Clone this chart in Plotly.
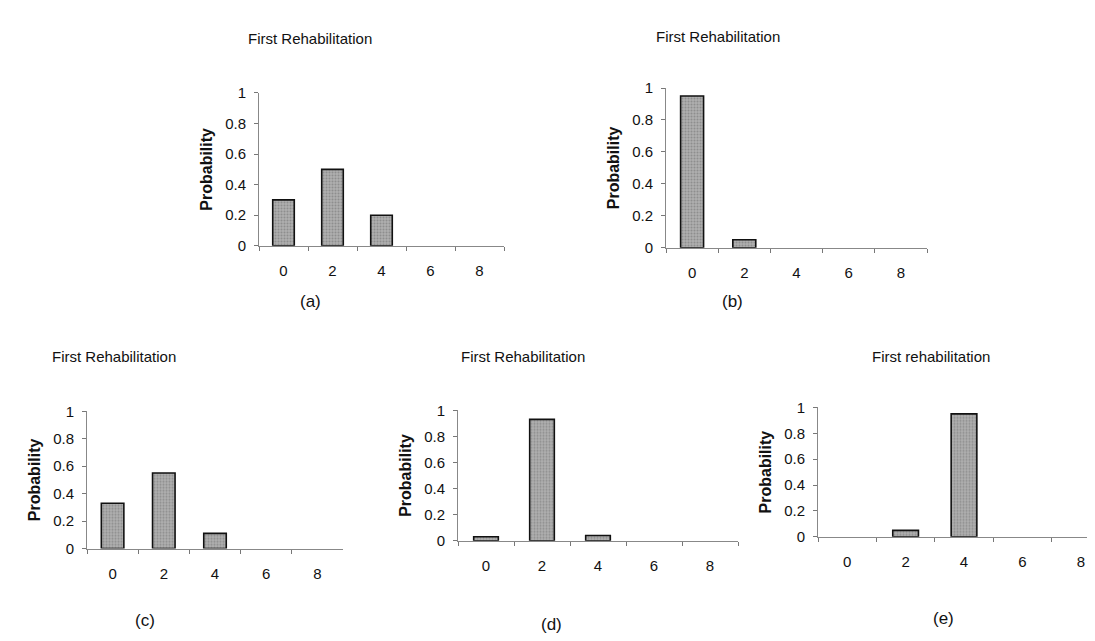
import plotly.graph_objects as go

categories = ["0", "2", "4", "6", "8"]
prob_a = [0.30, 0.50, 0.20, 0.0, 0.0]
prob_b = [0.95, 0.05, 0.0, 0.0, 0.0]
prob_c = [0.33, 0.55, 0.11, 0.0, 0.0]
prob_d = [0.03, 0.93, 0.04, 0.0, 0.0]
prob_e = [0.0, 0.05, 0.95, 0.0, 0.0]
titles = ["First Rehabilitation", "First Rehabilitation", "First Rehabilitation",
          "First Rehabilitation", "First rehabilitation"]
panel_labels = ["(a)", "(b)", "(c)", "(d)", "(e)"]
y_ticks = [0, 0.2, 0.4, 0.6, 0.8, 1]
y_ticklabels = ["0", "0.2", "0.4", "0.6", "0.8", "1"]

W, H = 1095, 641
FONT = "Liberation Sans, Arial, sans-serif"

# pixel layout: (x_left, x_right, y_zero, y_one, xrange_max)
layout_px = [
    (251, 496, 235, 78, 4.5),
    (658, 919, 237, 73, 4.5),
    (79, 335, 546, 405, 4.5),
    (450, 730, 538, 404, 4.5),
    (810, 1095, 534, 401, 4.38),
]
title_pos = [(302, 22), (710, 20), (106, 349), (515, 349), (923, 349)]
label_pos = [(302, 292), (724, 292), (137, 620), (543, 624), (935, 618)]

series = [prob_a, prob_b, prob_c, prob_d, prob_e]

fig = go.Figure()
annotations = []
for i, (vals, (xl, xr, y0, y1, xmax)) in enumerate(zip(series, layout_px)):
    n = "" if i == 0 else str(i + 1)
    fig.add_trace(go.Bar(
        x=categories, y=vals, width=0.44,
        marker=dict(color="#a8a8a8",
                    line=dict(color="#111111",
                              width=[1.6 if v > 0 else 0 for v in vals]),
                    pattern=dict(shape=".", fgcolor="#6a6a6a", bgcolor="#b0b0b0",
                                 size=3, solidity=0.4)),
        xaxis="x" + n, yaxis="y" + n, showlegend=False, hoverinfo="skip",
    ))
    xa = dict(domain=[xl / W, xr / W], anchor="y" + n, type="category",
              range=[-0.5, xmax], tickson="boundaries", ticks="outside",
              ticklen=4, tickcolor="#777", showline=True, linecolor="#888",
              linewidth=1, showgrid=False, zeroline=False,
              ticklabelstandoff=11,
              tickfont=dict(family=FONT, size=15, color="#111"))
    ya = dict(domain=[1 - y0 / H, 1 - y1 / H], anchor="x" + n, range=[0, 1],
              tickvals=y_ticks, ticktext=y_ticklabels, ticks="outside",
              ticklen=4, tickcolor="#777", showline=True, linecolor="#888",
              linewidth=1, showgrid=False, zeroline=False,
              ticklabelstandoff=5,
              tickfont=dict(family=FONT, size=15, color="#111"),
              title=dict(text="<b>Probability</b>", standoff=8,
                         font=dict(family=FONT, size=16, color="#111")))
    fig.update_layout(**{"xaxis" + n: xa, "yaxis" + n: ya})
    tx, ty = title_pos[i]
    annotations.append(dict(text=titles[i], x=tx / W, y=1 - ty / H, xref="paper",
                            yref="paper", showarrow=False, xanchor="center",
                            yanchor="middle",
                            font=dict(family=FONT, size=15, color="#111")))
    lx, ly = label_pos[i]
    annotations.append(dict(text=panel_labels[i], x=lx / W, y=1 - ly / H,
                            xref="paper", yref="paper", showarrow=False,
                            xanchor="center", yanchor="middle",
                            font=dict(family=FONT, size=17, color="#111")))

fig.update_layout(width=W, height=H, margin=dict(l=0, r=0, t=0, b=0),
                  paper_bgcolor="white", plot_bgcolor="white",
                  annotations=annotations, bargap=0.5)
fig.write_html("out.html")
